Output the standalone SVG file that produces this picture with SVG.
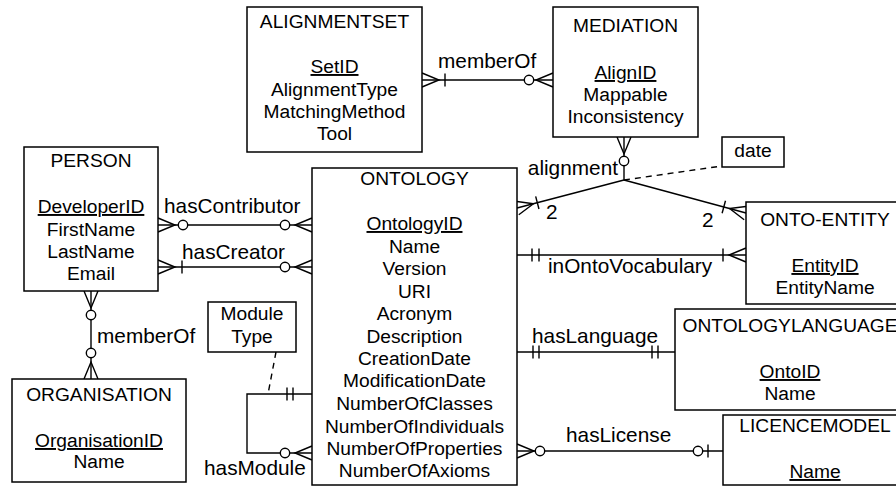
<svg xmlns="http://www.w3.org/2000/svg" xmlns:xlink="http://www.w3.org/1999/xlink" width="896" height="487" viewBox="0 0 896 487">
<style>
.box{fill:#fff;stroke:#000;stroke-width:1.5}
.t{font-family:"Liberation Sans",Arial,Helvetica,sans-serif;font-size:19.2px;fill:#000;text-anchor:middle}
.u{text-decoration:underline}
.lbl{font-family:"Liberation Sans",Arial,Helvetica,sans-serif;font-size:20.8px;fill:#000}
.ln{fill:none;stroke:#000;stroke-width:1.4}
.dash{fill:none;stroke:#000;stroke-width:1.4;stroke-dasharray:6,5}
.ring{fill:#fff;stroke:#000;stroke-width:1.4}
</style>
<defs>
<path id="crow" d="M0,-7 L17,0 L0,7" fill="none" stroke="#000" stroke-width="1.4"/>
<path id="bar" d="M0,-6.5 V6.5" fill="none" stroke="#000" stroke-width="1.4"/>
<circle id="ring" r="4.7" class="ring"/>
</defs>

<g id="connectors">
  <!-- ALIGNMENTSET - MEDIATION memberOf -->
  <line class="ln" x1="422" y1="80" x2="553" y2="80"/>
  <use href="#crow" transform="translate(422,80)"/>
  <use href="#bar" transform="translate(445,80)"/>
  <use href="#crow" transform="translate(553,80) rotate(180)"/>
  <use href="#ring" transform="translate(529,80)"/>
  <text class="lbl" x="438" y="68">memberOf</text>

  <!-- MEDIATION - alignment -->
  <line class="ln" x1="624" y1="137" x2="624" y2="180"/>
  <use href="#crow" transform="translate(624,137) rotate(90)"/>
  <use href="#ring" transform="translate(624,161)"/>
  <text class="lbl" x="618" y="175" text-anchor="end">alignment</text>

  <!-- alignment - ONTOLOGY -->
  <line class="ln" x1="624" y1="180" x2="517" y2="208"/>
  <g transform="translate(517,208) rotate(-14.7)">
    <use href="#crow"/>
    <use href="#bar" transform="translate(21,0)"/>
  </g>
  <text class="lbl" x="546" y="219">2</text>

  <!-- alignment - ONTO-ENTITY -->
  <line class="ln" x1="624" y1="180" x2="746" y2="213"/>
  <g transform="translate(746,213) rotate(195.1)">
    <use href="#crow"/>
    <use href="#bar" transform="translate(23,0)"/>
  </g>
  <text class="lbl" x="702" y="227">2</text>

  <!-- date -->
  <line class="dash" x1="624" y1="180" x2="722" y2="166"/>

  <!-- inOntoVocabulary -->
  <line class="ln" x1="517" y1="255" x2="746" y2="255"/>
  <use href="#bar" transform="translate(532,255)"/>
  <use href="#bar" transform="translate(539,255)"/>
  <use href="#crow" transform="translate(746,255) rotate(180)"/>
  <use href="#bar" transform="translate(723,255)"/>
  <text class="lbl" x="548" y="273">inOntoVocabulary</text>

  <!-- hasContributor -->
  <line class="ln" x1="158" y1="225" x2="312" y2="225"/>
  <use href="#crow" transform="translate(158,225)"/>
  <use href="#ring" transform="translate(183,225)"/>
  <use href="#crow" transform="translate(312,225) rotate(180)"/>
  <use href="#ring" transform="translate(285,225)"/>
  <text class="lbl" x="164" y="213">hasContributor</text>

  <!-- hasCreator -->
  <line class="ln" x1="158" y1="267" x2="312" y2="267"/>
  <use href="#crow" transform="translate(158,267)"/>
  <use href="#bar" transform="translate(182,267)"/>
  <use href="#crow" transform="translate(312,267) rotate(180)"/>
  <use href="#ring" transform="translate(285,267)"/>
  <text class="lbl" x="182" y="259">hasCreator</text>

  <!-- PERSON - ORGANISATION memberOf -->
  <line class="ln" x1="91" y1="291" x2="91" y2="379"/>
  <use href="#crow" transform="translate(91,291) rotate(90)"/>
  <use href="#ring" transform="translate(91,315)"/>
  <use href="#crow" transform="translate(91,379) rotate(-90)"/>
  <use href="#ring" transform="translate(91,353)"/>
  <text class="lbl" x="97" y="343">memberOf</text>

  <!-- hasModule -->
  <polyline class="ln" points="312,394 247,394 247,453 312,453"/>
  <use href="#bar" transform="translate(287,394)"/>
  <use href="#bar" transform="translate(293,394)"/>
  <use href="#crow" transform="translate(312,453) rotate(180)"/>
  <use href="#ring" transform="translate(285,453)"/>
  <text class="lbl" x="204" y="475">hasModule</text>
  <line class="dash" x1="276" y1="352" x2="268" y2="394"/>

  <!-- hasLanguage -->
  <line class="ln" x1="517" y1="352" x2="675" y2="352"/>
  <use href="#bar" transform="translate(533,352)"/>
  <use href="#bar" transform="translate(539,352)"/>
  <use href="#bar" transform="translate(652,352)"/>
  <use href="#bar" transform="translate(658,352)"/>
  <text class="lbl" x="532" y="343">hasLanguage</text>

  <!-- hasLicense -->
  <line class="ln" x1="517" y1="451" x2="723" y2="451"/>
  <use href="#crow" transform="translate(517,451)"/>
  <use href="#ring" transform="translate(540,451)"/>
  <use href="#ring" transform="translate(698,451)"/>
  <use href="#bar" transform="translate(708,451)"/>
  <text class="lbl" x="566" y="442">hasLicense</text>
</g>

<g id="alignmentset">
  <rect class="box" x="247" y="7" width="175" height="145"/>
  <text class="t" x="334.5" y="28">ALIGNMENTSET</text>
  <text class="t u" x="334.5" y="73">SetID</text>
  <text class="t" x="334.5" y="95.5">AlignmentType</text>
  <text class="t" x="334.5" y="118">MatchingMethod</text>
  <text class="t" x="334.5" y="140">Tool</text>
</g>

<g id="mediation">
  <rect class="box" x="553" y="7" width="145" height="130"/>
  <text class="t" x="625.5" y="32">MEDIATION</text>
  <text class="t u" x="625.5" y="79">AlignID</text>
  <text class="t" x="625.5" y="101">Mappable</text>
  <text class="t" x="625.5" y="123">Inconsistency</text>
</g>

<g id="date">
  <rect class="box" x="722" y="137" width="62" height="30"/>
  <text class="t" x="753" y="157">date</text>
</g>

<g id="person">
  <rect class="box" x="24" y="147" width="134" height="144"/>
  <text class="t" x="91" y="167">PERSON</text>
  <text class="t u" x="91" y="213">DeveloperID</text>
  <text class="t" x="91" y="236">FirstName</text>
  <text class="t" x="91" y="258">LastName</text>
  <text class="t" x="91" y="280">Email</text>
</g>

<g id="ontology">
  <rect class="box" x="312" y="168" width="205" height="317"/>
  <text class="t" x="414.5" y="185">ONTOLOGY</text>
  <text class="t u" x="414.5" y="230">OntologyID</text>
  <text class="t" x="414.5" y="252.5">Name</text>
  <text class="t" x="414.5" y="275">Version</text>
  <text class="t" x="414.5" y="297.5">URI</text>
  <text class="t" x="414.5" y="320">Acronym</text>
  <text class="t" x="414.5" y="342.5">Description</text>
  <text class="t" x="414.5" y="365">CreationDate</text>
  <text class="t" x="414.5" y="387">ModificationDate</text>
  <text class="t" x="414.5" y="410">NumberOfClasses</text>
  <text class="t" x="414.5" y="432.5">NumberOfIndividuals</text>
  <text class="t" x="414.5" y="455">NumberOfProperties</text>
  <text class="t" x="414.5" y="477">NumberOfAxioms</text>
</g>

<g id="onto-entity">
  <rect class="box" x="746" y="202" width="160" height="102"/>
  <text class="t" x="825" y="226">ONTO-ENTITY</text>
  <text class="t u" x="825" y="272">EntityID</text>
  <text class="t" x="825" y="294">EntityName</text>
</g>

<g id="ontologylanguage">
  <rect class="box" x="675" y="309" width="232" height="101"/>
  <text class="t" x="790" y="332">ONTOLOGYLANGUAGE</text>
  <text class="t u" x="790" y="378">OntoID</text>
  <text class="t" x="790" y="400">Name</text>
</g>

<g id="licencemodel">
  <rect class="box" x="723" y="415" width="184" height="70"/>
  <text class="t" x="815" y="432">LICENCEMODEL</text>
  <text class="t u" x="815" y="478">Name</text>
</g>

<g id="organisation">
  <rect class="box" x="12" y="379" width="174" height="103"/>
  <text class="t" x="99" y="401">ORGANISATION</text>
  <text class="t u" x="99" y="447">OrganisationID</text>
  <text class="t" x="99" y="468">Name</text>
</g>

<g id="moduletype">
  <rect class="box" x="208" y="302" width="88" height="50"/>
  <text class="t" x="252" y="320">Module</text>
  <text class="t" x="252" y="343">Type</text>
</g>
</svg>
